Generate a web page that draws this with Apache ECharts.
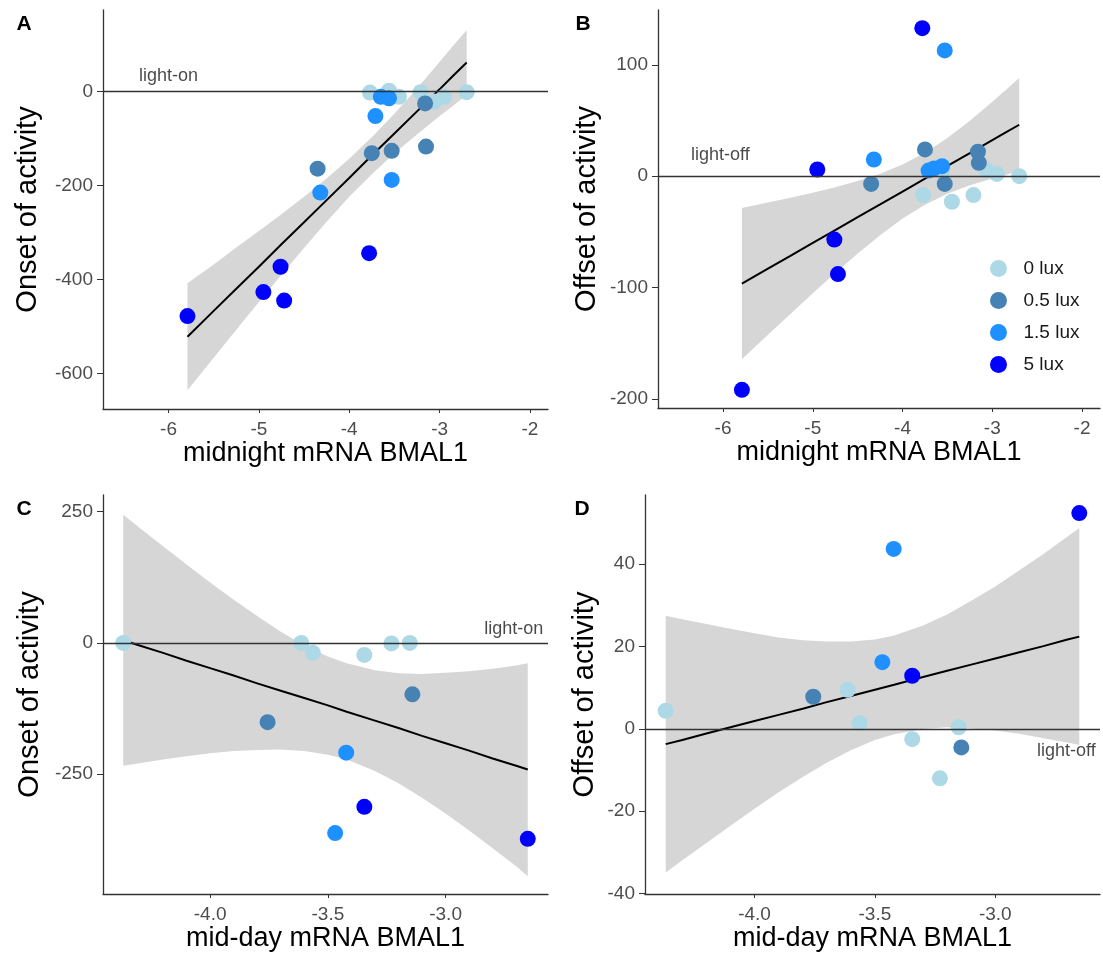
<!DOCTYPE html>
<html>
<head>
<meta charset="utf-8">
<script src="https://cdn.jsdelivr.net/npm/echarts@6.0.0/dist/echarts.min.js"></script>
<style>
html, body { margin: 0; padding: 0; background: #fff; }
#main { width: 1103px; height: 961px; }
</style>
</head>
<body>
<div id="main"></div>
<script>
// ---- data ----
var luxNames = ['0 lux', '0.5 lux', '1.5 lux', '5 lux'];

// midnight BMAL1 (panels A, B), one array per light group
var midnightX0 = [-3.77, -3.56, -3.45, -3.21, -3.06, -2.95, -2.70];
var midnightOnset0 = [-2, 2, -11, -1, -21, -11, -1];
var midnightOffset0 = [-17, 5, -23, -17, 5, 2, 0];
var midnightX05 = [-4.35, -3.75, -3.53, -3.16, -3.15];
var midnightOnset05 = [-164, -131, -126, -25, -117];
var midnightOffset05 = [-7, 24, -7, 22, 12];
var midnightX15 = [-4.32, -3.71, -3.65, -3.56, -3.53];
var midnightOnset15 = [-215, -52, -11, -14, -188];
var midnightOffset15 = [15, 5, 7, 9, 113];
var midnightX5 = [-5.79, -4.95, -4.76, -4.72, -3.78];
var midnightOnset5 = [-478, -427, -373, -445, -344];
var midnightOffset5 = [-192, 6, -57, -88, 133];

// mid-day BMAL1 (panels C, D)
var middayX0 = [-4.369, -3.613, -3.564, -3.345, -3.230, -3.152];
var middayOnset0 = [0, 0, -19, -23, -1, 0];
var middayOffset0 = [4.4, 9.5, 1.4, -2.5, -12.0, 0.4];
var middayX05 = [-3.756, -3.141];
var middayOnset05 = [-151, -98];
var middayOffset05 = [7.8, -4.5];
var middayX15 = [-3.469, -3.422];
var middayOnset15 = [-362, -209];
var middayOffset15 = [16.2, 43.7];
var middayX5 = [-3.345, -2.651];
var middayOnset5 = [-312, -373];
var middayOffset5 = [12.9, 52.4];

// fitted lines and confidence bands
var midnightFitX = [-5.79, -5.5, -5.25, -5.0, -4.75, -4.5, -4.25, -4.0, -3.75, -3.5, -3.25, -3.0, -2.85, -2.70];
var onsetAFit = [-522, -467, -420, -373, -325, -278, -231, -184, -136, -89, -42, 5, 34, 62];
var onsetAUpper = [-408, -368, -332, -297, -261, -224, -185, -143, -97, -47, 7, 63, 98, 131];
var onsetALower = [-636, -567, -507, -448, -390, -333, -277, -224, -176, -131, -91, -52, -30, -7];
var offsetBFit = [-96.5, -83.1, -71.6, -60.0, -48.5, -36.9, -25.4, -13.8, -2.3, 9.3, 20.8, 32.4, 39.3, 46.2];
var offsetBUpper = [-28.5, -23.7, -19.4, -14.8, -9.9, -4.3, 2.2, 10.5, 21.1, 34.4, 49.8, 66.8, 77.4, 88.1];
var offsetBLower = [-164.5, -142.5, -123.8, -105.2, -87.1, -69.5, -53.0, -38.1, -25.7, -15.8, -8.2, -2.0, 1.2, 4.3];

var middayFitX = [-4.369, -4.3, -4.2, -4.1, -4.0, -3.9, -3.8, -3.7, -3.6, -3.5, -3.42, -3.3, -3.2, -3.1, -3.0, -2.9, -2.8, -2.7, -2.651];
var onsetCFit = [5, -5, -19, -34, -48, -62, -77, -91, -105, -119, -131, -148, -162, -177, -191, -205, -220, -234, -241];
var onsetCUpper = [244, 219, 184, 149, 115, 82, 51, 21, -5, -26, -39, -52, -58, -59, -57, -54, -49, -43, -39];
var onsetCLower = [-234, -229, -222, -216, -210, -206, -204, -203, -206, -213, -222, -244, -267, -295, -325, -357, -391, -425, -444];
var offsetDFit = [-3.7, -2.7, -1.1, 0.4, 1.9, 3.4, 4.9, 6.5, 8.0, 9.5, 10.7, 12.6, 14.1, 15.6, 17.1, 18.6, 20.1, 21.7, 22.4];
var offsetDUpper = [27.5, 26.6, 25.5, 24.3, 23.2, 22.2, 21.5, 21.2, 21.2, 21.7, 22.7, 25.1, 27.8, 31.1, 34.6, 38.5, 42.5, 46.7, 48.7];
var offsetDLower = [-34.9, -31.9, -27.7, -23.5, -19.4, -15.4, -11.7, -8.2, -5.2, -2.7, -1.3, 0.0, 0.4, 0.1, -0.4, -1.2, -2.3, -3.3, -3.9];

// tick labels
var midnightTicks = [-6, -5, -4, -3, -2];
var middayTicks = [-4.0, -3.5, -3.0];
var onsetATicks = [-600, -400, -200, 0];
var offsetBTicks = [-200, -100, 0, 100];
var onsetCTicks = [-250, 0, 250];
var offsetDTicks = [-40, -20, 0, 20, 40];

// ---- styles ----
var luxColors = ['#add8e6', '#4682b4', '#1e90ff', '#0000ff'];
var font = '"Liberation Sans", Arial, sans-serif';

function zip(xs, ys) {
	return xs.map(function (x, i) { return [x, ys[i]]; });
}

var panels = [{
	grid: { left: 103, top: 10, width: 445, height: 399 },
	xRange: [-6.725, -1.8], yRange: [-676, 174],
	xTicks: midnightTicks, yTicks: onsetATicks, xDigits: 0,
	xName: 'midnight mRNA BMAL1', yName: 'Onset of activity', yNameGap: 61,
	xs: [midnightX0, midnightX05, midnightX15, midnightX5],
	ys: [midnightOnset0, midnightOnset05, midnightOnset15, midnightOnset5],
	fitX: midnightFitX, fit: onsetAFit, upper: onsetAUpper, lower: onsetALower,
	note: 'light-on', notePos: [-6.0, 33]
}, {
	grid: { left: 658, top: 10, width: 442, height: 398 },
	xRange: [-6.725, -1.8], yRange: [-208.3, 149.3],
	xTicks: midnightTicks, yTicks: offsetBTicks, xDigits: 0,
	xName: 'midnight mRNA BMAL1', yName: 'Offset of activity', yNameGap: 57,
	xs: [midnightX0, midnightX05, midnightX15, midnightX5],
	ys: [midnightOffset0, midnightOffset05, midnightOffset15, midnightOffset5],
	fitX: midnightFitX, fit: offsetBFit, upper: offsetBUpper, lower: offsetBLower,
	note: 'light-off', notePos: [-6.03, 19]
}, {
	grid: { left: 103, top: 495, width: 445, height: 399 },
	xRange: [-4.455, -2.565], yRange: [-478, 281.5],
	xTicks: middayTicks, yTicks: onsetCTicks, xDigits: 1,
	xName: 'mid-day mRNA BMAL1', yName: 'Onset of activity', yNameGap: 59,
	xs: [middayX0, middayX05, middayX15, middayX5],
	ys: [middayOnset0, middayOnset05, middayOnset15, middayOnset5],
	fitX: middayFitX, fit: onsetCFit, upper: onsetCUpper, lower: onsetCLower,
	note: 'light-on', notePos: [-2.71, 26]
}, {
	grid: { left: 645, top: 495, width: 455, height: 399 },
	xRange: [-4.455, -2.565], yRange: [-40.1, 56.8],
	xTicks: middayTicks, yTicks: offsetDTicks, xDigits: 1,
	xName: 'mid-day mRNA BMAL1', yName: 'Offset of activity', yNameGap: 46,
	xs: [middayX0, middayX05, middayX15, middayX5],
	ys: [middayOffset0, middayOffset05, middayOffset15, middayOffset5],
	fitX: middayFitX, fit: offsetDFit, upper: offsetDUpper, lower: offsetDLower,
	note: 'light-off', notePos: [-2.705, -5.5]
}];

// polygon between lower and upper edges, drawn once per band series
function bandRenderer(p) {
	return function (params, api) {
		if (params.dataIndex !== 0) return;
		var pts = [];
		for (var k = 0; k < p.fitX.length; k++) pts.push(api.coord([p.fitX[k], p.upper[k]]));
		for (var k2 = p.fitX.length - 1; k2 >= 0; k2--) pts.push(api.coord([p.fitX[k2], p.lower[k2]]));
		return {
			type: 'polygon',
			shape: { points: pts },
			style: { fill: '#d6d6d6' }
		};
	};
}

var grids = [], xAxes = [], yAxes = [], series = [];

panels.forEach(function (p, i) {
	grids.push({
		left: p.grid.left, top: p.grid.top, width: p.grid.width, height: p.grid.height,
		containLabel: false, outerBoundsMode: 'none'
	});
	xAxes.push({
		gridIndex: i, type: 'value', min: p.xRange[0], max: p.xRange[1],
		name: p.xName, nameLocation: 'middle', nameGap: 31,
		nameTextStyle: { fontSize: 27, color: '#000', fontFamily: font },
		axisLine: { onZero: false, lineStyle: { color: '#333', width: 1.3 } },
		axisTick: { customValues: p.xTicks, length: 4, lineStyle: { color: '#333' } },
		axisLabel: {
			customValues: p.xTicks, margin: 11, fontSize: 19, color: '#4d4d4d', fontFamily: font,
			formatter: (function (d) { return function (v) { return v.toFixed(d); }; })(p.xDigits)
		},
		splitLine: { show: false }
	});
	yAxes.push({
		gridIndex: i, type: 'value', min: p.yRange[0], max: p.yRange[1],
		name: p.yName, nameLocation: 'middle', nameGap: p.yNameGap,
		nameTextStyle: { fontSize: 29, color: '#000', fontFamily: font },
		axisLine: { onZero: false, lineStyle: { color: '#333', width: 1.3 } },
		axisTick: { customValues: p.yTicks, length: 6, lineStyle: { color: '#333' } },
		axisLabel: { customValues: p.yTicks, margin: 10, fontSize: 19, color: '#4d4d4d', fontFamily: font },
		splitLine: { show: false }
	});

	// confidence band
	series.push({
		type: 'custom', xAxisIndex: i, yAxisIndex: i, silent: true,
		data: p.fitX.map(function (x, k) { return [x, p.lower[k], p.upper[k]]; }),
		encode: { x: 0, y: [1, 2] },
		renderItem: bandRenderer(p), clip: true, z: 1
	});
	// fitted line + light-on/off reference
	series.push({
		type: 'line', xAxisIndex: i, yAxisIndex: i,
		data: zip(p.fitX, p.fit), symbol: 'none', silent: true,
		lineStyle: { color: '#000', width: 2 }, z: 3,
		markLine: {
			silent: true, symbol: 'none', label: { show: false },
			lineStyle: { color: '#333', width: 1.3, type: 'solid' },
			data: [{ yAxis: 0 }]
		}
	});
	// points per light group
	luxNames.forEach(function (name, g) {
		series.push({
			type: 'scatter', name: name, xAxisIndex: i, yAxisIndex: i,
			data: zip(p.xs[g], p.ys[g]), symbolSize: 16,
			itemStyle: { color: luxColors[g], opacity: 1 }, z: 4
		});
	});
	series.push({
		type: 'scatter', xAxisIndex: i, yAxisIndex: i, silent: true,
		data: [p.notePos], symbolSize: 0,
		label: { show: true, position: 'inside', formatter: p.note, fontSize: 18, color: '#1a1a1a', fontFamily: font },
		z: 5
	});
});

var letters = [['A', 24, 24.5], ['B', 583, 24], ['C', 24, 509.5], ['D', 582, 509.5]];

var option = {
	backgroundColor: '#fff',
	animation: false,
	grid: grids,
	xAxis: xAxes,
	yAxis: yAxes,
	legend: {
		data: luxNames, orient: 'vertical', left: 985, top: 254,
		itemWidth: 40, itemHeight: 17, itemGap: 13, icon: 'circle',
		textStyle: { fontSize: 19, color: '#1a1a1a', fontFamily: font }
	},
	graphic: letters.map(function (l) {
		return {
			type: 'text', x: l[1], y: l[2],
			style: { text: l[0], font: 'bold 21px ' + font, fill: '#000', align: 'center', verticalAlign: 'middle' }
		};
	}),
	series: series
};

var myChart = echarts.init(document.getElementById('main'));
myChart.setOption(option);
</script>
</body>
</html>
